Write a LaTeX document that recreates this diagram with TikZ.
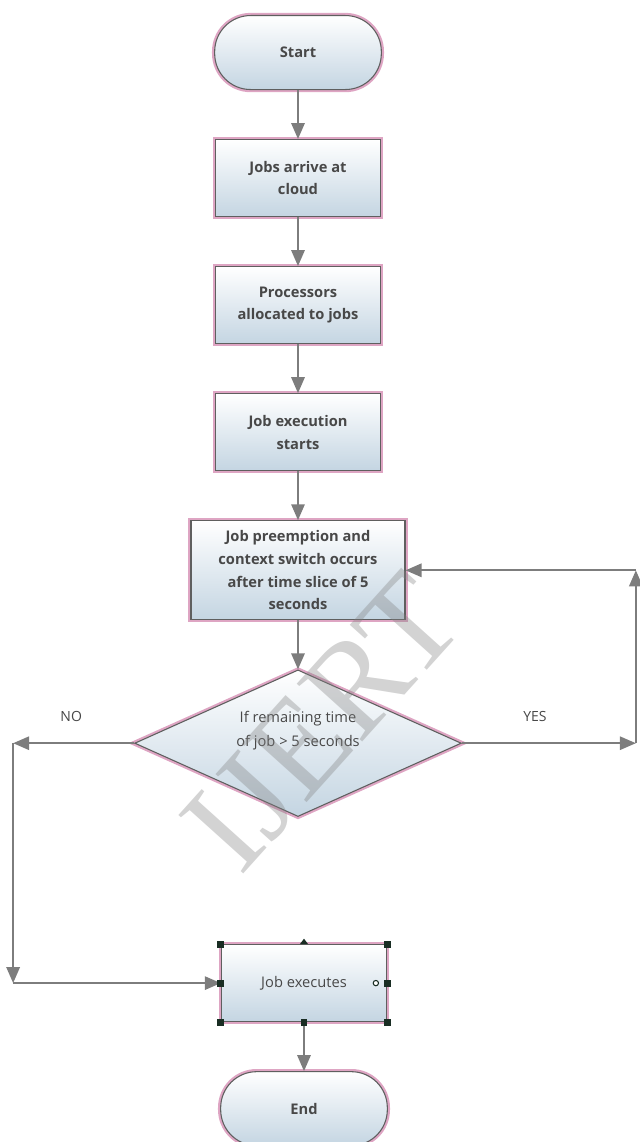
\documentclass[tikz,border=0pt]{standalone}
\usepackage{fontspec}
\setmainfont{Open Sans}
\newfontfamily\wmfont{Liberation Serif}
\usetikzlibrary{shapes.geometric, arrows.meta, positioning}

\definecolor{linegray}{RGB}{125,125,125}
\definecolor{bordergray}{RGB}{95,95,95}
\definecolor{glowpink}{RGB}{222,165,195}
\definecolor{boxblue}{RGB}{196,213,226}
\definecolor{textgray}{RGB}{72,72,72}
\definecolor{handlegreen}{RGB}{25,45,35}

\begin{document}
\begin{tikzpicture}[
    node distance=36.75pt,
    terminal/.style={rectangle, rounded corners=27pt, minimum width=125pt, minimum height=55.5pt, inner sep=0pt, align=center, draw=bordergray, line width=0.8pt, top color=white, bottom color=boxblue, preaction={draw=glowpink, line width=4pt}, text=textgray, font=\fontsize{11}{17}\selectfont\bfseries},
    process/.style={rectangle, minimum width=124pt, minimum height=57.75pt, inner sep=0pt, align=center, draw=bordergray, line width=0.8pt, top color=white, bottom color=boxblue, preaction={draw=glowpink, line width=4pt}, text=textgray, font=\fontsize{11}{17}\selectfont\bfseries},
    decision/.style={diamond, aspect=2.2, minimum width=245pt, minimum height=110pt, inner sep=0pt, align=center, draw=bordergray, line width=0.8pt, top color=white, bottom color=boxblue, preaction={draw=glowpink, line width=4pt}, text=textgray, font=\fontsize{11}{18}\selectfont},
    arrow/.style={draw=linegray, line width=1.5pt, -{Triangle[length=12pt,width=10pt]}},
    lbl/.style={text=textgray, font=\fontsize{10.5}{12}\selectfont},
    handle/.style={fill=handlegreen},
    watermark/.style={rotate=48, text=gray, text opacity=0.35, font=\wmfont\fontsize{100}{100}\selectfont}
    ]

    % page size of the reference
    \useasboundingbox (-223.5pt,-817.1pt) rectangle (255.75pt,39.4pt);

    % Main column
    \node (start) [terminal] {Start};
    \node (arrive) [process, below=of start] {Jobs arrive at\\cloud};
    \node (alloc) [process, below=of arrive] {Processors\\allocated to jobs};
    \node (exec) [process, below=of alloc] {Job execution\\starts};
    \node (preempt) [process, below=of exec, minimum width=160.5pt, minimum height=74.25pt] {Job preemption and\\context switch occurs\\after time slice of 5\\seconds};
    \node (check) [decision, below=of preempt] {If remaining time\\of job > 5 seconds\\[4pt]};
    \node (jobexec) [process, below=95.25pt of check, xshift=4.5pt, font=\fontsize{11}{17}\selectfont] {Job executes};
    \node (end) [terminal, below=of jobexec] {End};

    % Corner points of the loops
    \coordinate [right=130.5pt of check.east] (yesR);
    \coordinate (yesT) at (yesR |- preempt.east);
    \coordinate [left=90.75pt of check.west] (noL);
    \coordinate (noB) at (noL |- jobexec.west);

    % Arrows - main column
    \draw [arrow] (start) -- (arrive);
    \draw [arrow] (arrive) -- (alloc);
    \draw [arrow] (alloc) -- (exec);
    \draw [arrow] (exec) -- (preempt);
    \draw [arrow] (preempt) -- (check);
    \draw [arrow] (jobexec) -- (end);

    % Arrows - YES loop
    \draw [arrow] (check.east) -- node[lbl, above=12pt, pos=0.42] {YES} (yesR);
    \draw [arrow] (yesR) -- (yesT);
    \draw [arrow] (yesT) -- (preempt.east);

    % Arrows - NO branch
    \draw [arrow] (check.west) -- node[lbl, above=12pt, pos=0.52] {NO} (noL);
    \draw [arrow] (noL) -- (noB);
    \draw [arrow] (noB) -- (jobexec.west);

    % Selection handles on the last box
    \foreach \a in {north west, north east, south west, south east, west, east, south}
        \fill [handle] (jobexec.\a) ++(-2.6pt,-2.6pt) rectangle ++(5.2pt,5.2pt);
    \fill [handle] (jobexec.north) ++(-3pt,0) -- ++(6pt,0) -- ++(-3pt,4pt) -- cycle;
    \draw [handlegreen, fill=white, line width=0.8pt] (jobexec.east) ++(-8.5pt,0) circle (2pt);

    % Watermark
    \node [watermark, xshift=24pt, yshift=-3pt] (wm) at (check) {IJERT};

\end{tikzpicture}
\end{document}
